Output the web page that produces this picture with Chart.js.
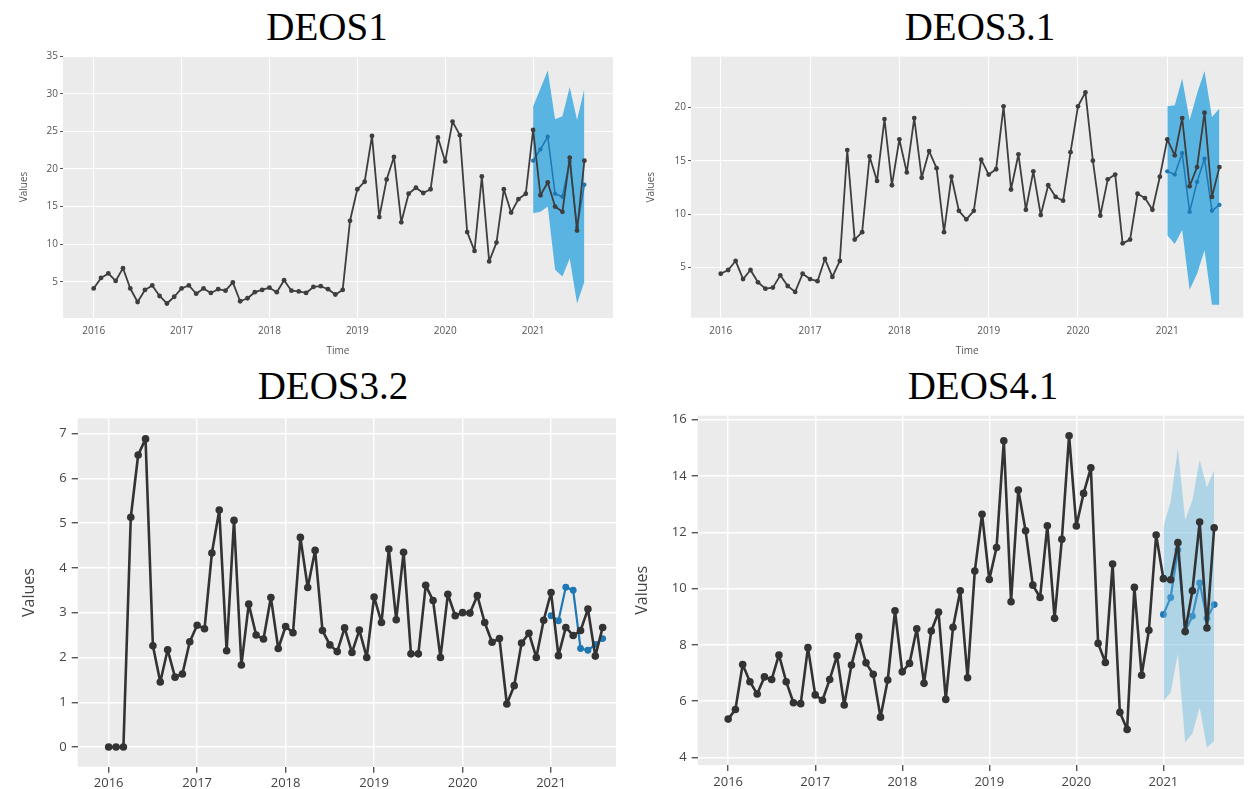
<!DOCTYPE html>
<html>
<head>
<meta charset="utf-8">
<script src="https://cdn.jsdelivr.net/npm/chart.js@4.4.1/dist/chart.umd.min.js"></script>
<style>
  body { margin: 0; background: #fff; width: 1248px; height: 789px; position: relative; overflow: hidden; }
  .title { position: absolute; font-family: "Liberation Serif", "Times New Roman", serif; font-size: 39px; line-height: 1; color: #000; white-space: nowrap; transform: translateX(-50%); }
  .panel { position: absolute; }
</style>
</head>
<body>
<div class="title" style="left:327px; top:7px;">DEOS1</div>
<div class="title" style="left:980px; top:7px;">DEOS3.1</div>
<div class="title" style="left:333px; top:366px;">DEOS3.2</div>
<div class="title" style="left:983px; top:366px;">DEOS4.1</div>

<canvas class="panel" id="c1" width="620" height="320" style="left:0; top:46px;"></canvas>
<canvas class="panel" id="c2" width="623" height="320" style="left:625px; top:46px;"></canvas>
<canvas class="panel" id="c3" width="625" height="394" style="left:0; top:395px;"></canvas>
<canvas class="panel" id="c4" width="623" height="394" style="left:625px; top:395px;"></canvas>

<script>
// monthly observations, Jan 2016 .. Aug 2021
const yearTicks = [2016, 2017, 2018, 2019, 2020, 2021];

const deos1 = [4.1, 5.5, 6.1, 5.1, 6.8, 4.1, 2.3, 3.9, 4.5, 3.1, 2.1, 3.0,
  4.1, 4.5, 3.4, 4.1, 3.5, 4.0, 3.8, 4.9, 2.4, 2.8, 3.6, 3.9,
  4.2, 3.6, 5.2, 3.8, 3.7, 3.5, 4.3, 4.4, 4.0, 3.3, 3.9, 13.1,
  17.3, 18.3, 24.4, 13.6, 18.6, 21.6, 12.9, 16.7, 17.5, 16.8, 17.3, 24.2,
  21.0, 26.3, 24.5, 11.6, 9.1, 19.0, 7.7, 10.2, 17.3, 14.2, 16.0, 16.7,
  25.2, 16.5, 18.2, 15.0, 14.3, 21.5, 11.8, 21.1];
const deos1Fc = [21.1, 22.6, 24.3, 16.7, 16.3, 21.0, 12.2, 17.9];
const deos1Hi = [28.3, 30.7, 33.1, 26.6, 27.0, 30.9, 26.5, 30.7];
const deos1Lo = [14.1, 14.3, 15.0, 6.6, 5.7, 8.1, 2.1, 5.0];

const deos31 = [4.4, 4.75, 5.6, 3.9, 4.75, 3.6, 3.0, 3.1, 4.25, 3.25, 2.7, 4.4,
  3.9, 3.7, 5.8, 4.1, 5.6, 16.0, 7.6, 8.3, 15.4, 13.1, 18.9, 12.7,
  17.0, 13.9, 19.0, 13.4, 15.9, 14.3, 8.3, 13.5, 10.3, 9.5, 10.3, 15.1,
  13.7, 14.2, 20.1, 12.3, 15.6, 10.4, 14.0, 9.9, 12.7, 11.6, 11.25, 15.8,
  20.1, 21.4, 15.0, 9.85, 13.25, 13.7, 7.25, 7.6, 11.9, 11.5, 10.4, 13.5,
  17.0, 15.5, 19.0, 12.6, 14.4, 19.5, 11.6, 14.4];
const deos31Fc = [14.0, 13.7, 15.7, 10.2, 13.0, 15.2, 10.3, 10.85];
const deos31Hi = [20.1, 20.2, 22.7, 18.8, 21.3, 23.4, 19.1, 19.9];
const deos31Lo = [8.0, 7.2, 8.5, 2.9, 4.4, 6.6, 1.5, 1.5];

const deos32 = [0, 0, 0, 5.13, 6.52, 6.88, 2.26, 1.45, 2.17, 1.56, 1.63, 2.35,
  2.72, 2.64, 4.33, 5.29, 2.15, 5.06, 1.83, 3.19, 2.50, 2.41, 3.34, 2.20,
  2.69, 2.55, 4.68, 3.56, 4.39, 2.60, 2.28, 2.13, 2.66, 2.11, 2.61, 2.0,
  3.35, 2.78, 4.42, 2.84, 4.35, 2.08, 2.08, 3.61, 3.27, 2.0, 3.41, 2.93,
  3.0, 2.99, 3.38, 2.78, 2.34, 2.42, 0.96, 1.37, 2.32, 2.54, 2.0, 2.83,
  3.45, 2.04, 2.67, 2.49, 2.60, 3.08, 2.03, 2.67];
const deos32Fc = [2.93, 2.82, 3.57, 3.50, 2.20, 2.16, 2.29, 2.42];

const deos41 = [5.36, 5.70, 7.30, 6.69, 6.25, 6.86, 6.77, 7.64, 6.69, 5.94, 5.91, 7.90,
  6.22, 6.03, 6.77, 7.61, 5.86, 7.28, 8.29, 7.36, 6.95, 5.43, 6.75, 9.21,
  7.04, 7.34, 8.57, 6.63, 8.49, 9.16, 6.06, 8.62, 9.92, 6.83, 10.62, 12.64,
  10.32, 11.46, 15.25, 9.53, 13.50, 12.05, 10.12, 9.68, 12.23, 8.94, 11.75, 15.43,
  12.22, 13.38, 14.29, 8.05, 7.37, 10.87, 5.60, 4.99, 10.04, 6.92, 8.52, 11.90,
  10.35, 10.31, 11.63, 8.47, 9.92, 12.36, 8.60, 12.16];
const deos41Fc = [9.08, 9.68, 11.37, 8.47, 9.02, 10.20, 8.94, 9.43];
const deos41Hi = [12.20, 13.09, 14.98, 12.43, 13.14, 14.57, 13.59, 14.21];
const deos41Lo = [6.0, 6.31, 7.69, 4.53, 4.85, 5.78, 4.34, 4.59];

// month labels 2016-01 .. 2021-08
const months = [];
for (let y = 2016; y <= 2021; y++) {
  for (let m = 1; m <= 12; m++) {
    if (y === 2021 && m > 8) break;
    months.push(y + '-' + String(m).padStart(2, '0'));
  }
}
const fcMonths = months.slice(60);

function toX(label) {
  const [y, m] = label.split('-').map(Number);
  return y + (m - 1) / 12;
}
function pts(labels, vals) {
  return vals.map((v, i) => ({ x: toX(labels[i]), y: v }));
}

// grey panel background
const panelBg = {
  id: 'panelBg',
  beforeDraw(chart) {
    const a = chart.chartArea;
    const ctx = chart.ctx;
    ctx.save();
    ctx.fillStyle = '#ebebeb';
    ctx.fillRect(a.left, a.top, a.right - a.left, a.bottom - a.top);
    ctx.restore();
  }
};

function makePanel(id, o) {
  const datasets = [
    {
      data: pts(months, o.actual),
      borderColor: o.lineColor, backgroundColor: o.lineColor,
      borderWidth: o.lineWidth, borderJoinStyle: 'round',
      pointRadius: o.pointRadius, pointBorderWidth: 0,
      tension: 0, order: 1
    },
    {
      data: pts(fcMonths, o.forecast),
      borderColor: '#1f77b4', backgroundColor: '#1f77b4',
      borderWidth: o.lineWidth * 0.85, borderJoinStyle: 'round',
      pointRadius: o.pointRadius * 0.9, pointBorderWidth: 0,
      tension: 0, order: o.fcOrder
    }
  ];
  if (o.hi) {
    datasets.push({
      data: pts(fcMonths, o.hi),
      borderColor: 'transparent', borderWidth: 0, pointRadius: 0,
      backgroundColor: o.bandColor, fill: '+1', tension: 0, order: o.bandOrder
    });
    datasets.push({
      data: pts(fcMonths, o.lo),
      borderColor: 'transparent', borderWidth: 0, pointRadius: 0,
      fill: false, tension: 0, order: o.bandOrder
    });
  }

  new Chart(document.getElementById(id), {
    type: 'line',
    data: { datasets },
    plugins: [panelBg],
    options: {
      responsive: false,
      animation: false,
      devicePixelRatio: 1,
      layout: { padding: o.pad },
      plugins: { legend: { display: false }, tooltip: { enabled: false } },
      scales: {
        x: {
          type: 'linear', min: o.xMin, max: o.xMax,
          afterBuildTicks(s) { s.ticks = yearTicks.map(v => ({ value: v })); },
          afterFit(s) { s.height = o.xHeight; },
          border: { display: false },
          grid: { color: '#ffffff', lineWidth: o.gridWidth, drawTicks: o.xTicks, tickLength: 6, tickColor: '#555' },
          ticks: { padding: o.xTickPad, color: o.tickColor, font: { family: 'Open Sans', size: o.tickSize }, callback: v => String(v), maxRotation: 0 },
          title: { display: o.showTime, text: 'Time', color: o.tickColor, font: { family: 'Open Sans', size: o.titleSize }, padding: { top: 0, bottom: 9 } }
        },
        y: {
          min: o.yMin, max: o.yMax,
          afterBuildTicks(s) { s.ticks = o.yTicks.map(v => ({ value: v })); },
          afterFit(s) { s.width = o.yWidth; },
          border: { display: false },
          grid: { color: '#ffffff', lineWidth: o.gridWidth, tickLength: o.yTickLen, tickColor: '#555' },
          ticks: { padding: o.yTickPad, color: o.tickColor, font: { family: 'Open Sans', size: o.tickSize }, callback: v => String(v) },
          title: { display: true, text: 'Values', color: o.tickColor, font: { family: 'Open Sans', size: o.titleSize }, padding: { top: o.yTitlePad, bottom: 0 } }
        }
      }
    }
  });
}

const topStyle = {
  lineColor: '#3e3e3e', lineWidth: 1.8, pointRadius: 2.4, gridWidth: 1,
  tickColor: '#555', tickSize: 10, titleSize: 10, xTicks: false, xTickPad: 7,
  yTickLen: 3, yTickPad: 2, showTime: true, xHeight: 48,
  bandColor: '#5ab4e1', bandOrder: 3, fcOrder: 2
};
const bottomStyle = {
  lineColor: '#333333', lineWidth: 2.6, pointRadius: 3.8, gridWidth: 1.4,
  tickColor: '#444', tickSize: 13, titleSize: 16, xTicks: true, xTickPad: 3,
  yTickLen: 6, yTickPad: 5, showTime: false
};

makePanel('c1', Object.assign({}, topStyle, {
  actual: deos1, forecast: deos1Fc, hi: deos1Hi, lo: deos1Lo,
  xMin: 2015.651, xMax: 2021.909, yMin: 0.17, yMax: 35.03, yTicks: [5, 10, 15, 20, 25, 30, 35],
  pad: { left: 0, top: 10, right: 7, bottom: 0 }, yWidth: 63, yTitlePad: 18
}));
makePanel('c2', Object.assign({}, topStyle, {
  actual: deos31, forecast: deos31Fc, hi: deos31Hi, lo: deos31Lo,
  xMin: 2015.667, xMax: 2021.851, yMin: 0.28, yMax: 24.75, yTicks: [5, 10, 15, 20],
  pad: { left: 0, top: 10.7, right: 4.7, bottom: 0 }, yWidth: 66, xHeight: 48.3, yTitlePad: 20
}));
makePanel('c3', Object.assign({}, bottomStyle, {
  actual: deos32, forecast: deos32Fc, fcOrder: 2,
  xMin: 2015.65, xMax: 2021.734, yMin: -0.44, yMax: 7.34, yTicks: [0, 1, 2, 3, 4, 5, 6, 7],
  pad: { left: 0, top: 23.3, right: 9, bottom: 0 }, yWidth: 77.7, xHeight: 22.3, yTitlePad: 19.4
}));
makePanel('c4', Object.assign({}, bottomStyle, {
  actual: deos41, forecast: deos41Fc, hi: deos41Hi, lo: deos41Lo,
  bandColor: 'rgba(100,185,225,0.45)', bandOrder: 2, fcOrder: 3,
  xMin: 2015.65, xMax: 2021.926, yMin: 3.73, yMax: 16.14, yTicks: [4, 6, 8, 10, 12, 14, 16],
  pad: { left: 0, top: 20.7, right: 1.3, bottom: 0 }, yWidth: 72.7, xHeight: 24, yTitlePad: 7.4
}));
</script>
</body>
</html>
